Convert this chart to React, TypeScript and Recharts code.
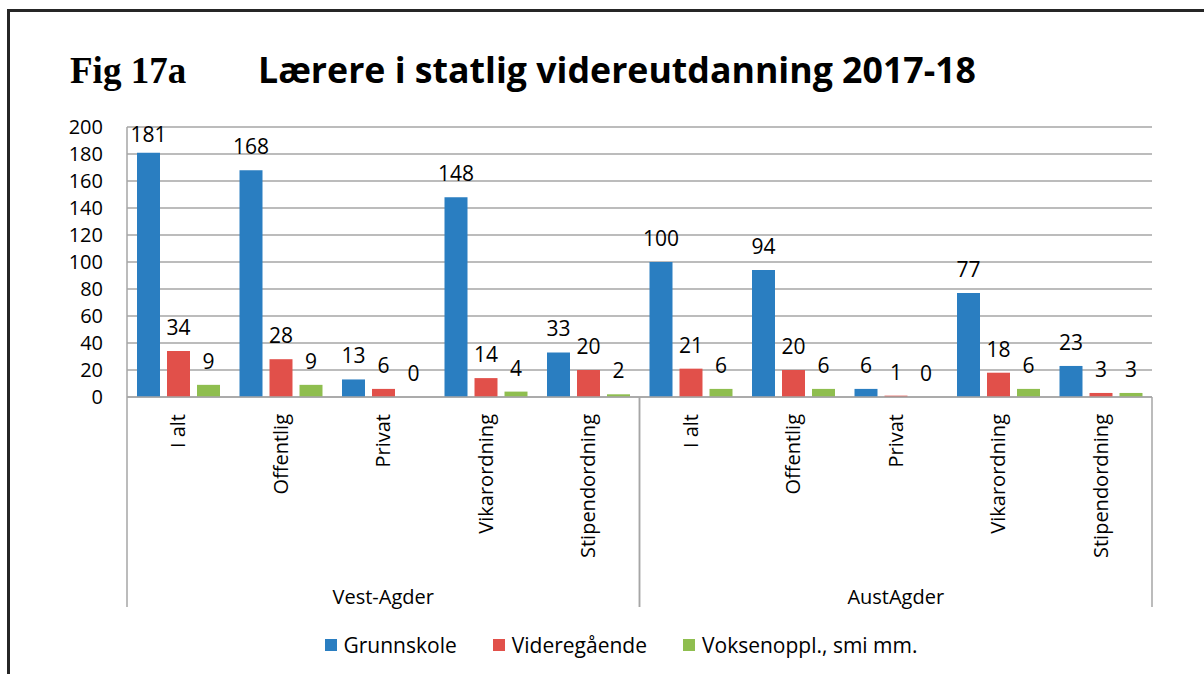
import React from "react";
import { BarChart, Bar, XAxis, YAxis, CartesianGrid, LabelList, Legend } from "recharts";

// ---------- data ----------
const regions = ["Vest-Agder", "AustAgder"];
const schemes = ["I alt", "Offentlig", "Privat", "Vikarordning", "Stipendordning"];
const seriesNames = ["Grunnskole", "Videregående", "Voksenoppl., smi mm."];
const grunnskole = [181, 168, 13, 148, 33, 100, 94, 6, 77, 23];
const videregaende = [34, 28, 6, 14, 20, 21, 20, 1, 18, 3];
const voksenoppl = [9, 9, 0, 4, 2, 6, 6, 0, 6, 3];
const yTicks = [0, 20, 40, 60, 80, 100, 120, 140, 160, 180, 200];

const data = regions.flatMap((region, ri) =>
  schemes.map((scheme, si) => {
    const i = ri * schemes.length + si;
    return {
      key: `${ri}-${si}`,
      region,
      scheme,
      g: grunnskole[i],
      v: videregaende[i],
      o: voksenoppl[i],
    };
  })
);

// ---------- style ----------
const FONT = "'Open Sans', 'Noto Sans', sans-serif";
const COLORS = ["#2A7EC1", "#E1504A", "#8FBE4F"];
const GRID = "#a6a6a6";
const W = 1204;
const H = 674;
const MARGIN = { top: 127, right: 52, bottom: 33, left: 67 };
const CAT_AXIS_H = 180;
const REGION_AXIS_H = 40;

// keep zero-value bars present (invisible) so their "0" labels are drawn
const zeroKeep = (value: any) => (Number(value) === 0 ? 0.001 : 0);

const ValueLabel = (props: any) => {
  const { x, y, width, value } = props;
  const cx = Number(x) + Number(width) / 2;
  const baseline = Math.max(Number(y) - 16, MARGIN.top + 15);
  return (
    <text x={cx} y={baseline} textAnchor="middle" fontSize={21} fontFamily={FONT} fill="#000">
      {value}
    </text>
  );
};

const plotWidth = W - MARGIN.left - 60 - MARGIN.right;

const CatTick = (props: any) => {
  const { x, y, payload, index } = props;
  const i = typeof index === "number" ? index : payload.index;
  const row = data[i];
  if (!row) return null;
  const half = typeof payload?.offset === "number" && payload.offset > 0 ? payload.offset : plotWidth / data.length / 2;
  const lines: number[] = [];
  if (i === 0 || data[i - 1].region !== row.region) lines.push(x - half);
  if (i === data.length - 1 || data[i + 1].region !== row.region) lines.push(x + half);
  return (
    <g>
      {lines.map((lx, k) => (
        <line key={k} x1={lx} x2={lx} y1={y} y2={y + CAT_AXIS_H + 30} stroke={GRID} strokeWidth={1.5} />
      ))}
      <text
        transform={`translate(${x + 7}, ${y + 17}) rotate(-90)`}
        textAnchor="end"
        fontSize={20}
        fontFamily={FONT}
        fill="#000"
      >
        {row.scheme}
      </text>
    </g>
  );
};

const RegionTick = (props: any) => {
  const { x, y, payload } = props;
  return (
    <text x={x} y={y + 27} textAnchor="middle" fontSize={20} fontFamily={FONT} fill="#000">
      {payload.value}
    </text>
  );
};

const LegendContent = (props: any) => {
  const payload = props.payload || [];
  return (
    <div
      style={{
        height: 24,
        width: W,
        display: "flex",
        justifyContent: "center",
        alignItems: "center",
        paddingLeft: 38,
        boxSizing: "border-box",
        gap: 36,
        fontFamily: FONT,
        fontSize: 21,
        color: "#000",
      }}
    >
      {payload.map((e: any, k: number) => (
        <div key={k} style={{ display: "flex", alignItems: "center" }}>
          <span style={{ width: 12, height: 12, background: e.color, display: "inline-block", marginRight: 7 }} />
          <span style={{ lineHeight: "24px" }}>{e.value}</span>
        </div>
      ))}
    </div>
  );
};

export default function App() {
  return (
    <div style={{ position: "absolute", left: 0, top: 0, width: W, height: H, overflow: "hidden", background: "#fff" }}>
      {/* outer frame */}
      <div
        style={{
          position: "absolute",
          left: 7,
          top: 9,
          width: 1400,
          height: 900,
          borderTop: "3px solid #262626",
          borderLeft: "3px solid #262626",
        }}
      />
      <svg style={{ position: "absolute", left: 0, top: 0 }} width={W} height={120}>
        <text x={70} y={83} fontFamily="'Liberation Serif', 'Times New Roman', serif" fontWeight="bold" fontSize={37} fill="#000">
          Fig 17a
        </text>
        <text
          x={258}
          y={83}
          fontFamily={FONT}
          fontWeight="bold"
          fontSize={35}
          fill="#000"
          textLength={718}
          lengthAdjust="spacingAndGlyphs"
        >
          Lærere i statlig videreutdanning 2017-18
        </text>
      </svg>
      <div style={{ position: "absolute", left: 0, top: 0 }}>
        <BarChart width={W} height={H} data={data} margin={MARGIN} barGap={7} barSize={23}>
          <CartesianGrid xAxisId="cat" vertical={false} stroke={GRID} strokeWidth={1.5} />
          <XAxis
            xAxisId="cat"
            dataKey="key"
            height={CAT_AXIS_H}
            interval={0}
            tickLine={false}
            tickSize={0}
            tickMargin={0}
            axisLine={{ stroke: GRID, strokeWidth: 1.5 }}
            tick={<CatTick />}
          />
          <XAxis
            xAxisId="region"
            dataKey="region"
            allowDuplicatedCategory={false}
            height={REGION_AXIS_H}
            interval={0}
            tickLine={false}
            tickSize={0}
            tickMargin={0}
            axisLine={false}
            tick={<RegionTick />}
          />
          <YAxis
            width={60}
            domain={[0, 200]}
            ticks={yTicks}
            interval={0}
            tickLine={false}
            tickSize={0}
            tickMargin={24}
            axisLine={{ stroke: GRID, strokeWidth: 1.5 }}
            tick={{ fontSize: 20, fontFamily: FONT, fill: "#000" }}
          />
          <Legend verticalAlign="bottom" content={<LegendContent />} wrapperStyle={{ left: 0, bottom: 17, width: W }} />
          <Bar xAxisId="cat" dataKey="g" name={seriesNames[0]} fill={COLORS[0]} minPointSize={zeroKeep} isAnimationActive={false}>
            <LabelList dataKey="g" content={<ValueLabel />} />
          </Bar>
          <Bar xAxisId="cat" dataKey="v" name={seriesNames[1]} fill={COLORS[1]} minPointSize={zeroKeep} isAnimationActive={false}>
            <LabelList dataKey="v" content={<ValueLabel />} />
          </Bar>
          <Bar xAxisId="cat" dataKey="o" name={seriesNames[2]} fill={COLORS[2]} minPointSize={zeroKeep} isAnimationActive={false}>
            <LabelList dataKey="o" content={<ValueLabel />} />
          </Bar>
        </BarChart>
      </div>
    </div>
  );
}
